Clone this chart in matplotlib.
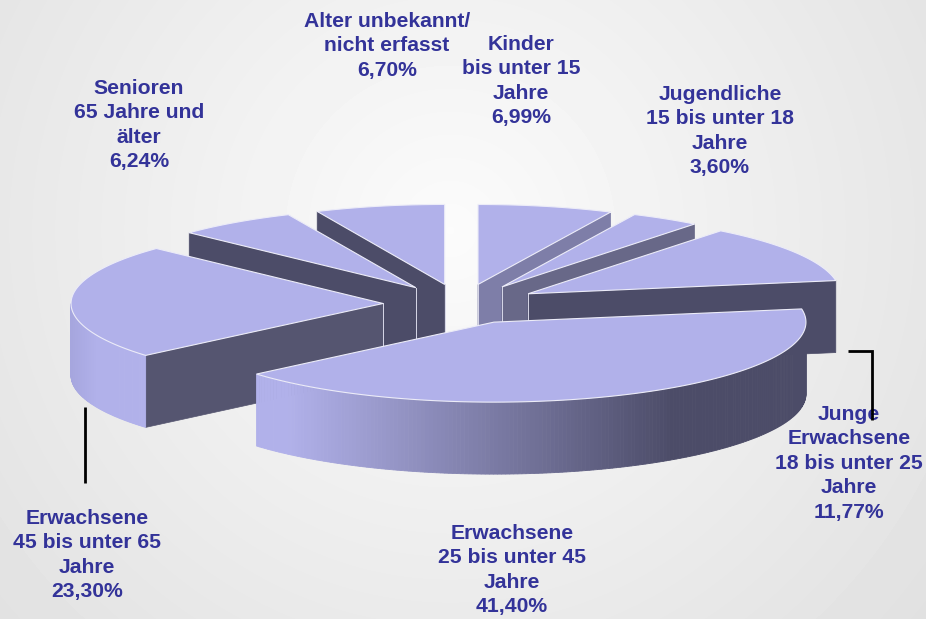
import numpy as np
import matplotlib
matplotlib.use("Agg")
import matplotlib.pyplot as plt
from matplotlib.colors import to_rgb

labels = [
    "Kinder\nbis unter 15\nJahre\n6,99%",
    "Jugendliche\n15 bis unter 18\nJahre\n3,60%",
    "Junge\nErwachsene\n18 bis unter 25\nJahre\n11,77%",
    "Erwachsene\n25 bis unter 45\nJahre\n41,40%",
    "Erwachsene\n45 bis unter 65\nJahre\n23,30%",
    "Senioren\n65 Jahre und\nälter\n6,24%",
    "Alter unbekannt/\nnicht erfasst\n6,70%",
]
values = [6.99, 3.60, 11.77, 41.40, 23.30, 6.24, 6.70]

# pie geometry in pixels of the picture
CX, CY = 461, 304
RX, RY = 312, 80
DEPTH = 72
EXPLODE = 0.25

TOP = "#B1B1EA"
TEXT = "#333399"
cut_colors = ["#7E7EA8", "#686888", "#4C4C68", "#4C4C68", "#555570", "#4C4C68", "#4C4C68"]
wall_from = ["#7E7EA8", "#686888", "#4C4C68", "#B1B1EA", "#A6A6DE", "#4C4C68", "#4C4C68"]
wall_to = ["#7E7EA8", "#686888", "#4C4C68", "#4C4C68", "#B1B1EA", "#4C4C68", "#4C4C68"]
# where the wall gradient starts and stops, as share of the slice width
wall_stops = [(0, 1), (0, 1), (0, 1), (0.06, 0.76), (0, 0.3), (0, 1), (0, 1)]
label_pos = [(521, 35), (720, 85), (849, 405), (512, 524), (87, 509), (139, 79), (387, 12)]
# back slices first, so the front ones paint over them
draw_order = [6, 0, 1, 5, 2, 4, 3]

fig = plt.figure(figsize=(9.26, 6.19), dpi=100)
ax = fig.add_axes([0, 0, 1, 1])
ax.set_xlim(0, 926)
ax.set_ylim(619, 0)
ax.axis("off")

# soft radial background
yy, xx = np.mgrid[0:619, 0:926]
dist = np.sqrt(((xx - 450) / 560.0) ** 2 + ((yy - 230) / 560.0) ** 2)
bg = np.clip(0.985 - 0.095 * dist, 0, 1)
ax.imshow(bg, cmap="gray", vmin=0, vmax=1, extent=(0, 926, 619, 0), aspect="auto", zorder=0)

edges = np.cumsum([0] + values) / sum(values) * 2 * np.pi


def mix(c1, c2, f):
    a, b = np.array(to_rgb(c1)), np.array(to_rgb(c2))
    return tuple(a + (b - a) * f)


for i in draw_order:
    t0, t1 = edges[i], edges[i + 1]
    mid = (t0 + t1) / 2
    tx = CX + EXPLODE * RX * np.sin(mid)
    ty = CY - EXPLODE * RY * np.cos(mid)
    t = np.linspace(t0, t1, 200)
    ax_x = tx + RX * np.sin(t)
    ax_y = ty - RY * np.cos(t)

    # cut faces, only the ones turned to the viewer
    for (x0, y0, x1, y1) in [(tx, ty, ax_x[0], ax_y[0]), (ax_x[-1], ax_y[-1], tx, ty)]:
        if x1 < x0:
            ax.fill([x0, x1, x1, x0], [y0, y1, y1 + DEPTH, y0 + DEPTH],
                    color=cut_colors[i], lw=0.5, zorder=1)
            ax.plot([tx, tx], [ty, ty + DEPTH], color="#D8D8E8", lw=0.7, zorder=1)

    # outer wall, strip by strip for the gradient
    xmin, xmax = ax_x.min(), ax_x.max()
    s0, s1 = wall_stops[i]
    for k in range(len(t) - 1):
        if ax_x[k + 1] < ax_x[k]:
            f = ((ax_x[k] - xmin) / (xmax - xmin) - s0) / (s1 - s0)
            c = mix(wall_from[i], wall_to[i], np.clip(f, 0, 1))
            ax.fill([ax_x[k], ax_x[k + 1], ax_x[k + 1], ax_x[k]],
                    [ax_y[k], ax_y[k + 1], ax_y[k + 1] + DEPTH, ax_y[k] + DEPTH],
                    color=c, lw=0.6, zorder=1)

    ax.fill(np.r_[tx, ax_x], np.r_[ty, ax_y], facecolor=TOP,
            edgecolor="#ECECF8", lw=0.8, zorder=1)

for lbl, (x, y) in zip(labels, label_pos):
    ax.text(x, y, lbl, ha="center", va="top", ma="center", color=TEXT,
            family="Liberation Sans", weight="bold", fontsize=15.2, linespacing=1.36, zorder=2)

ax.plot([84.5, 84.5], [407, 483], color="black", lw=2, solid_capstyle="butt", zorder=3)
ax.plot([848, 872, 872], [351, 351, 420], color="black", lw=2,
        solid_capstyle="butt", solid_joinstyle="miter", zorder=3)

fig.savefig("out.png", dpi=100)
